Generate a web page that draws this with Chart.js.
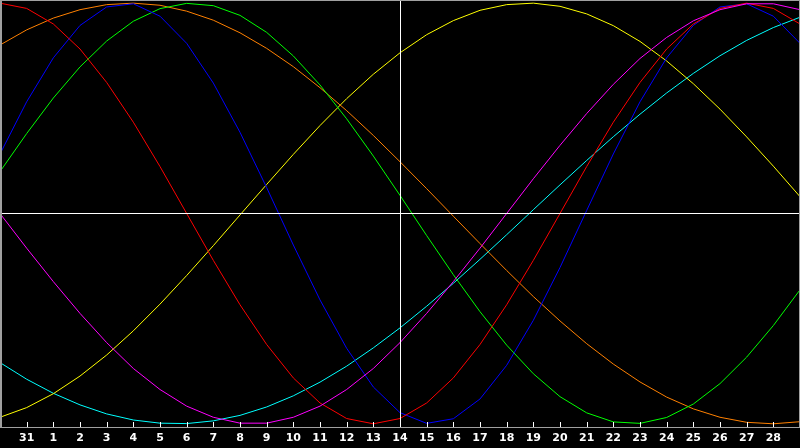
<!DOCTYPE html>
<html>
<head>
<meta charset="utf-8">
<script src="https://cdn.jsdelivr.net/npm/chart.js@4.4.1/dist/chart.umd.min.js"></script>
<style>
  html, body { margin: 0; padding: 0; background: #000; }
  #wrap { width: 800px; height: 448px; }
</style>
</head>
<body>
<div id="wrap"><canvas id="bio"></canvas></div>
<script>
// day labels, first and last sit on the chart edges and are not printed
const days = ['30', '31', '1', '2', '3', '4', '5', '6', '7', '8', '9', '10', '11', '12', '13', '14',
              '15', '16', '17', '18', '19', '20', '21', '22', '23', '24', '25', '26', '27', '28', '29'];
const todayIndex = 15;

// curve values, -1 .. 1, one per day
const redLine = [1.00, 0.975, 0.901, 0.782, 0.623, 0.434, 0.223, 0.00, -0.223, -0.434, -0.623,
                 -0.782, -0.901, -0.975, -1.00, -0.975, -0.901, -0.782, -0.623, -0.434, -0.223,
                 0.00, 0.223, 0.434, 0.623, 0.782, 0.901, 0.975, 1.00, 0.975, 0.901];
const blueLine = [0.283, 0.531, 0.740, 0.894, 0.982, 0.997, 0.938, 0.809, 0.620, 0.386, 0.123,
                  -0.150, -0.411, -0.641, -0.825, -0.947, -0.998, -0.976, -0.882, -0.722, -0.508,
                  -0.257, 0.014, 0.283, 0.531, 0.740, 0.894, 0.982, 0.997, 0.938, 0.809];
const greenLine = [0.199, 0.380, 0.549, 0.697, 0.820, 0.914, 0.974, 0.999, 0.988, 0.942, 0.861,
                   0.749, 0.611, 0.450, 0.273, 0.086, -0.105, -0.291, -0.467, -0.626, -0.762,
                   -0.871, -0.948, -0.991, -0.998, -0.970, -0.906, -0.809, -0.683, -0.533, -0.363];
const orangeLine = [0.801, 0.873, 0.929, 0.969, 0.993, 1.00, 0.990, 0.962, 0.919, 0.859, 0.785,
                    0.698, 0.598, 0.489, 0.371, 0.246, 0.118, -0.013, -0.143, -0.271, -0.395,
                    -0.511, -0.619, -0.716, -0.801, -0.873, -0.929, -0.969, -0.993, -1.00, -0.990];
const yellowLine = [-0.969, -0.923, -0.857, -0.773, -0.673, -0.558, -0.431, -0.295, -0.153, -0.007, 0.138,
                    0.281, 0.418, 0.546, 0.662, 0.764, 0.850, 0.917, 0.966, 0.993, 1.00,
                    0.985, 0.949, 0.893, 0.818, 0.725, 0.617, 0.496, 0.364, 0.225, 0.080];
const cyanLine = [-0.709, -0.788, -0.855, -0.910, -0.953, -0.982, -0.997, -0.999, -0.986, -0.960, -0.920,
                  -0.867, -0.802, -0.726, -0.639, -0.544, -0.441, -0.332, -0.218, -0.101, 0.018,
                  0.136, 0.252, 0.365, 0.472, 0.573, 0.666, 0.750, 0.823, 0.884, 0.933];
const magentaLine = [0.00, -0.165, -0.324, -0.475, -0.614, -0.737, -0.837, -0.916, -0.969, -0.997, -0.997,
                     -0.969, -0.916, -0.837, -0.737, -0.614, -0.475, -0.324, -0.165, 0.00, 0.165,
                     0.324, 0.475, 0.614, 0.737, 0.837, 0.916, 0.969, 0.997, 0.997, 0.969];

const frameLines = {
    id: 'frameLines',
    afterDatasetsDraw(chart) {
        const { ctx, chartArea: a, scales: { x, y } } = chart;
        const w = a.right - a.left;
        const h = a.bottom - a.top;
        ctx.save();

        // today and zero line
        ctx.fillStyle = '#ffffff';
        ctx.fillRect(Math.round(x.getPixelForValue(todayIndex)), a.top, 1, h);
        ctx.fillRect(a.left, Math.round(y.getPixelForValue(0)), w, 1);

        // small day ticks standing on the bottom line
        for (let i = 1; i < days.length - 1; i++) {
            ctx.fillRect(Math.round(x.getPixelForTick(i)), a.bottom - 6, 1, 5);
        }

        // grey frame
        ctx.fillStyle = '#a0a0a0';
        ctx.fillRect(a.left, a.top, w, 1);
        ctx.fillRect(a.left, a.top, 2, h);
        ctx.fillRect(a.right - 1, a.top, 1, h);
        ctx.fillRect(a.left, a.bottom - 1, w, 1);
        ctx.restore();
    }
};

const line = (data, color) => ({
    data,
    borderColor: color,
    borderWidth: 1,
    pointRadius: 0,
    tension: 0,
    fill: false
});

new Chart(document.getElementById('bio'), {
    type: 'line',
    data: {
        labels: days,
        datasets: [
            line(magentaLine, '#ff00ff'),
            line(redLine, '#ff0000'),
            line(blueLine, '#0000ff'),
            line(greenLine, '#00ff00'),
            line(orangeLine, '#ff8000'),
            line(yellowLine, '#ffff00'),
            line(cyanLine, '#00ffff')
        ]
    },
    options: {
        responsive: true,
        maintainAspectRatio: false,
        animation: false,
        layout: { padding: 0 },
        plugins: {
            legend: { display: false },
            tooltip: { enabled: false }
        },
        scales: {
            x: {
                offset: false,
                grid: { display: false, drawTicks: false },
                border: { display: false },
                ticks: {
                    color: '#ffffff',
                    font: { family: 'DejaVu Sans', size: 11, weight: 'bold' },
                    padding: 4,
                    autoSkip: false,
                    maxRotation: 0,
                    callback: (v, i) => (i === 0 || i === days.length - 1) ? '' : days[i]
                },
                afterFit(s) {
                    s.height = 20;
                    s.paddingLeft = 0;
                    s.paddingRight = 0;
                }
            },
            y: {
                display: false,
                min: -1.02,
                max: 1.015
            }
        }
    },
    plugins: [frameLines]
});
</script>
</body>
</html>
